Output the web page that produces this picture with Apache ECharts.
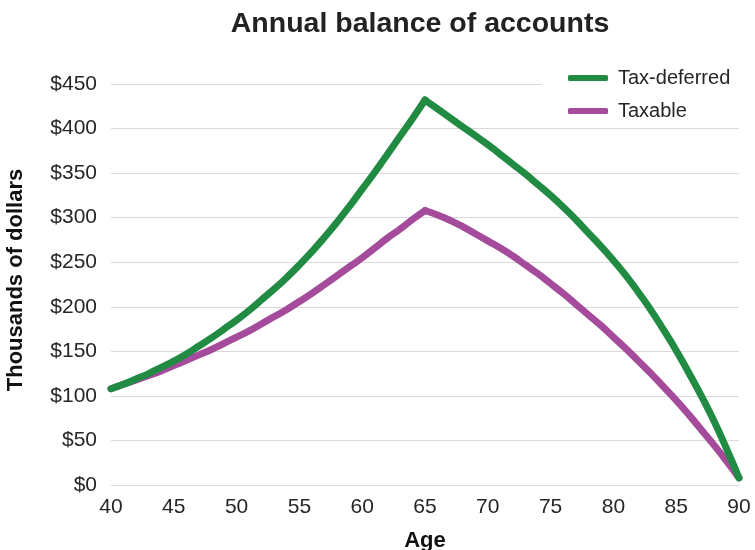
<!DOCTYPE html>
<html>
<head>
<meta charset="utf-8">
<script src="https://cdn.jsdelivr.net/npm/echarts@6/dist/echarts.min.js"></script>
<style>
html,body{margin:0;padding:0;background:#fff;}
#chart{width:755px;height:550px;}
</style>
</head>
<body>
<div id="chart"></div>
<script>
var titleText = 'Annual balance of accounts';
var seriesNames = ['Tax-deferred', 'Taxable'];
var xName = 'Age';
var yName = 'Thousands of dollars';
var ages = [40,41,42,43,44,45,46,47,48,49,50,51,52,53,54,55,56,57,58,59,60,61,62,63,64,65,
            66,67,68,69,70,71,72,73,74,75,76,77,78,79,80,81,82,83,84,85,86,87,88,89,90];
var taxDeferred = [108,113,119,125,132,139,147,156,165,175,185,196,208,220,233,247,262,278,295,313,332,351,371,391,411,432,
                   422,412,402,392,382,371,360,349,337,325,312,298,283,268,252,235,216,196,174,151,126,100,72,41,8];
var taxable = [108,113,118,123,128,134,140,146,152,159,166,173,181,189,197,206,215,225,235,245,255,266,277,287,298,308,
               303,297,290,282,274,266,257,247,237,226,215,203,191,179,166,153,139,125,110,95,79,62,45,27,8];
var peakAge = 65;
var yTicks = {min: 0, max: 450, interval: 50};
var xTicks = {min: 40, max: 90, interval: 5};

var peakIdx = ages.indexOf(peakAge);
function pairs(xs, ys){ return xs.map(function(x,i){ return [x, ys[i]]; }); }
function part(ys, rising){
  var all = pairs(ages, ys);
  return rising ? all.slice(0, peakIdx + 1) : all.slice(peakIdx);
}

var colors = ['#218b43', '#a54b9c'];
var font = '"Liberation Sans", Arial, sans-serif';
var seriesList = [];
[taxDeferred, taxable].forEach(function(ys, k){
  [true, false].forEach(function(rising){
    seriesList.push({
      name: seriesNames[k], type: 'line', data: part(ys, rising),
      symbol: 'none', smooth: 0.5, z: 3 - k,
      lineStyle: {color: colors[k], width: 7, cap: 'round', join: 'miter'},
      itemStyle: {color: colors[k]}
    });
  });
});

var chart = echarts.init(document.getElementById('chart'), null, {renderer:'canvas'});
chart.setOption({
  animation: false,
  backgroundColor: '#ffffff',
  textStyle: {fontFamily: font},
  title: {
    text: titleText,
    left: 415, textAlign: 'center', top: 5,
    textStyle: {fontSize: 28.5, fontWeight: 'bold', color: '#222222', fontFamily: font}
  },
  legend: {
    orient: 'vertical',
    left: 542, top: 64,
    padding: [4, 20, 4, 26],
    backgroundColor: '#ffffff',
    itemGap: 13,
    icon: 'roundRect',
    itemWidth: 40, itemHeight: 6,
    textStyle: {fontSize: 20, color: '#262626', padding: [0,0,0,5], fontFamily: font},
    data: seriesNames
  },
  grid: {left: 111, right: 16, top: 84, bottom: 65, containLabel: false, outerBoundsMode: 'none'},
  xAxis: {
    type: 'value',
    min: xTicks.min, max: xTicks.max, interval: xTicks.interval,
    name: xName, nameLocation: 'middle', nameGap: 45,
    nameTextStyle: {fontSize: 22, fontWeight: 'bold', color: '#111111', fontFamily: font},
    axisLine: {show: false}, axisTick: {show: false},
    splitLine: {show: false},
    axisLabel: {fontSize: 21, color: '#262626', margin: 12, fontFamily: font}
  },
  yAxis: {
    type: 'value',
    min: yTicks.min, max: yTicks.max, interval: yTicks.interval,
    name: yName, nameLocation: 'middle', nameGap: 84, nameRotate: 90,
    nameTextStyle: {fontSize: 22, fontWeight: 'bold', color: '#111111', fontFamily: font, padding: [0,0,0,9]},
    axisLine: {show: false}, axisTick: {show: false},
    splitLine: {show: true, lineStyle: {color: '#d9d9d9', width: 1}},
    axisLabel: {fontSize: 21, color: '#262626', margin: 14, fontFamily: font, formatter: function(v){ return '$' + v; }}
  },
  series: seriesList
});
</script>
</body>
</html>
